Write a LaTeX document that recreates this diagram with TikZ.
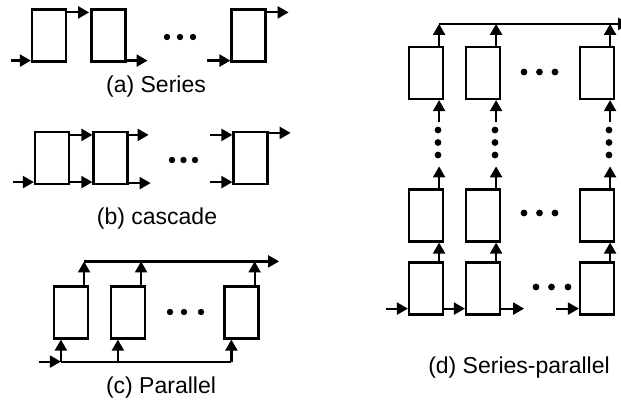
\documentclass[tikz,border=0pt]{standalone}
\usepackage{fontspec}
\setmainfont{Liberation Sans}
\usetikzlibrary{arrows.meta}

\tikzset{
	blk/.style={draw, line width=2.2pt, minimum width=34pt, minimum height=52pt, inner sep=0pt},
	arr/.style={line width=2.2pt, -{Triangle[length=11pt,width=12pt]}},
	ln/.style={line width=2.2pt},
	lbl/.style={anchor=base, font=\fontsize{23}{27}\selectfont},
}

\begin{document}
\begin{tikzpicture}[x=1pt,y=-1pt]
		\useasboundingbox (0,0) rectangle (621,401);
		
		% (a) series
		\node[blk] at (49,35.5) (a1) {};
		\node[blk] at (108.5,35.5) (a2) {};
		\node[blk] at (248.5,35.5) (a3) {};
		\draw[arr] ([xshift=-20pt,yshift=2pt]a1.south west) -- ([yshift=2pt]a1.south west);
		\draw[arr] ([yshift=-4pt]a1.north east) -- ([xshift=22pt,yshift=-4pt]a1.north east);
		\draw[arr] ([yshift=2pt]a2.south east) -- ([xshift=21pt,yshift=2pt]a2.south east);
		\draw[arr] ([xshift=-23pt,yshift=2pt]a3.south west) -- ([yshift=2pt]a3.south west);
		\draw[arr] ([yshift=-4pt]a3.north east) -- ([xshift=22pt,yshift=-4pt]a3.north east);
		\foreach \x in {167,180,193} \fill (\x,37) circle (3.2);
		\node[lbl] at (156,93) (la) {(a) Series};
		
		% (b) cascade
		\node[blk] at (52,158) (b1) {};
		\node[blk] at (110.5,158) (b2) {};
		\node[blk] at (250.5,158) (b3) {};
		\draw[arr] ([xshift=-21pt,yshift=3pt]b1.south west) -- ([yshift=3pt]b1.south west);
		\draw[arr] ([yshift=-4pt]b1.north east) -- ([yshift=-4pt]b2.north west);
		\draw[arr] ([yshift=3pt]b1.south east) -- ([yshift=3pt]b2.south west);
		\draw[arr] ([yshift=-4pt]b2.north east) -- ([xshift=20pt,yshift=-4pt]b2.north east);
		\draw[arr] ([yshift=2pt]b2.south east) -- ([xshift=22pt,yshift=2pt]b2.south east);
		\draw[arr] ([xshift=-22pt,yshift=-4pt]b3.north west) -- ([yshift=-4pt]b3.north west);
		\draw[arr] ([xshift=-22pt,yshift=3pt]b3.south west) -- ([yshift=3pt]b3.south west);
		\draw[arr] ([yshift=-2pt]b3.north east) -- ([xshift=22pt,yshift=-2pt]b3.north east);
		\foreach \x in {172,183.5,195} \fill (\x,160) circle (3.2);
		\node[lbl] at (157,224) (lb) {(b) cascade};
		
		% (c) parallel
		\node[blk] at (71,312.5) (c1) {};
		\node[blk] at (128,312.5) (c2) {};
		\node[blk] at (241.5,312.5) (c3) {};
		\foreach \b in {c1,c2,c3} {
			\draw[arr] ([xshift=-5pt]\b.north east) -- ++(0,-24) coordinate (\b t);
			\draw[arr] ([xshift=8pt,yshift=-22pt]\b.south west) -- ([xshift=8pt]\b.south west);
		}
		\draw[arr] (c1t) -- ++(195,0);
		\draw[ln] ([xshift=8pt,yshift=-22pt]c1.south west) -- ([xshift=8pt,yshift=-22pt]c3.south west);
		\draw[arr] ([xshift=-14pt,yshift=-22pt]c1.south west) -- ([xshift=8pt,yshift=-22pt]c1.south west);
		\foreach \x in {170,184,201} \fill (\x,312) circle (3.2);
		\node[lbl] at (161,393) (lc) {(c) Parallel};
		
		% (d) series-parallel
		\foreach \i/\x in {1/426,2/483,3/597} {
			\node[blk] at (\x,73) (dt\i) {};
			\node[blk] at (\x,215.5) (dm\i) {};
			\node[blk] at (\x,288.5) (db\i) {};
			\draw[arr] ([xshift=-5pt]dt\i.north east) -- ++(0,-22) coordinate (dt\i t);
			\draw[arr] ([xshift=-5pt,yshift=-22pt]dt\i.south east) -- ([xshift=-5pt]dt\i.south east);
			\draw[arr] ([xshift=-5pt]dm\i.north east) -- ++(0,-22);
			\draw[arr] ([xshift=-5pt]db\i.north east) -- ([xshift=-5pt]dm\i.south east);
			\foreach \y in {130,142.5,155} \fill (\x+12,\y) circle (3.4);
		}
		\draw[arr] (dt1t) -- ++(190,0);
		\draw[arr] ([xshift=-22pt,yshift=7pt]db1.south west) -- ([yshift=7pt]db1.south west);
		\draw[arr] ([yshift=7pt]db1.south east) -- ([yshift=7pt]db2.south west);
		\draw[arr] ([yshift=7pt]db2.south east) -- ([xshift=23pt,yshift=7pt]db2.south east);
		\draw[arr] ([xshift=-23pt,yshift=7pt]db3.south west) -- ([yshift=7pt]db3.south west);
		\foreach \x in {524,539.5,555} {
			\fill (\x,72) circle (3.4);
			\fill (\x,213) circle (3.4);
		}
		\foreach \x in {536,551.5,568} \fill (\x,287) circle (3.4);
		\node[lbl] at (519,373) (ld) {(d) Series-parallel};
\end{tikzpicture}
\end{document}
